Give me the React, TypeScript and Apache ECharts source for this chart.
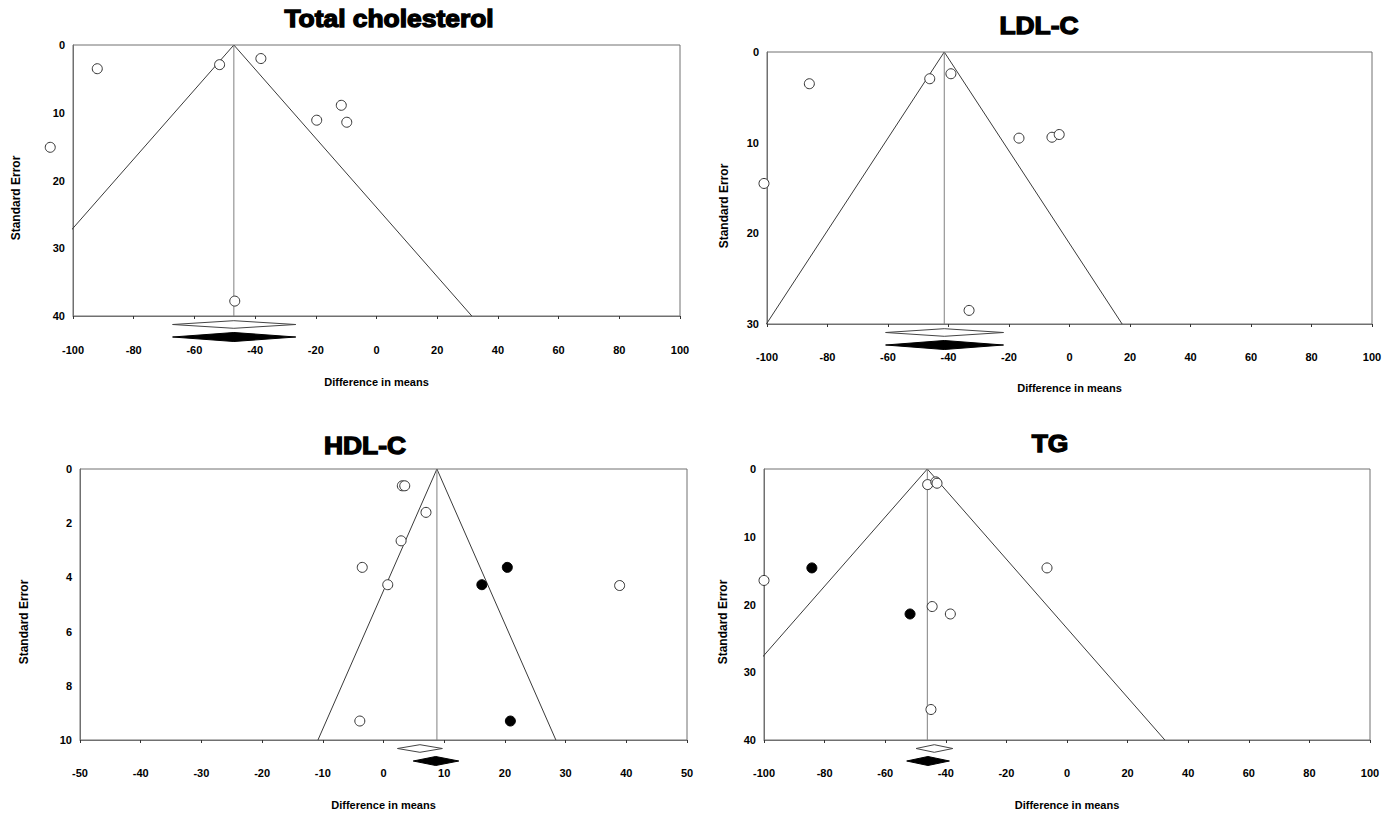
import React, { useEffect, useRef } from "react";
import * as echarts from "echarts";

// ---------- Data ----------
const panelTitles = ["Total cholesterol", "LDL-C", "HDL-C", "TG"];
const xAxisName = "Difference in means";
const yAxisName = "Standard Error";

// Total cholesterol
const tcOpenDiff = [-92.0, -51.7, -38.1, -11.6, -19.7, -9.8, -107.5, -46.7];
const tcOpenSE = [3.5, 2.9, 2.0, 8.9, 11.1, 11.4, 15.1, 37.8];
const tcFilledDiff: number[] = [];
const tcFilledSE: number[] = [];
const tcMean = -47.0;
const tcWhiteDiamond = [-67.2, -47.0, -26.6];
const tcBlackDiamond = [-67.2, -47.0, -26.6];
const tcXRange = [-100, 100, 20];
const tcYRange = [0, 40, 10];

// LDL-C
const ldlOpenDiff = [-86.0, -46.2, -39.2, -16.7, -5.8, -3.4, -101.0, -33.2];
const ldlOpenSE = [3.5, 2.95, 2.4, 9.5, 9.4, 9.1, 14.5, 28.5];
const ldlFilledDiff: number[] = [];
const ldlFilledSE: number[] = [];
const ldlMean = -41.4;
const ldlWhiteDiamond = [-60.8, -41.4, -21.8];
const ldlBlackDiamond = [-60.8, -41.4, -21.8];
const ldlXRange = [-100, 100, 20];
const ldlYRange = [0, 30, 10];

// HDL-C
const hdlOpenDiff = [3.1, 3.5, 7.0, 2.9, -3.5, 0.7, 38.9, -3.9];
const hdlOpenSE = [0.62, 0.62, 1.6, 2.65, 3.63, 4.27, 4.3, 9.3];
const hdlFilledDiff = [20.4, 16.2, 20.9];
const hdlFilledSE = [3.63, 4.27, 9.3];
const hdlMean = 8.8;
const hdlWhiteDiamond = [2.3, 6.0, 9.7];
const hdlBlackDiamond = [4.9, 8.6, 12.4];
const hdlXRange = [-50, 50, 10];
const hdlYRange = [0, 10, 2];

// TG
const tgOpenDiff = [-46.0, -43.3, -42.9, -6.6, -100.0, -44.5, -38.5, -44.9];
const tgOpenSE = [2.3, 1.9, 2.1, 14.6, 16.45, 20.3, 21.4, 35.5];
const tgFilledDiff = [-84.2, -51.8];
const tgFilledSE = [14.6, 21.4];
const tgMean = -46.1;
const tgWhiteDiamond = [-49.8, -43.8, -37.7];
const tgBlackDiamond = [-52.9, -45.9, -38.8];
const tgXRange = [-100, 100, 20];
const tgYRange = [0, 40, 10];

const Z = 1.96;

const panels = [
  { openX: tcOpenDiff, openY: tcOpenSE, fillX: tcFilledDiff, fillY: tcFilledSE, mean: tcMean, white: tcWhiteDiamond, black: tcBlackDiamond, xr: tcXRange, yr: tcYRange },
  { openX: ldlOpenDiff, openY: ldlOpenSE, fillX: ldlFilledDiff, fillY: ldlFilledSE, mean: ldlMean, white: ldlWhiteDiamond, black: ldlBlackDiamond, xr: ldlXRange, yr: ldlYRange },
  { openX: hdlOpenDiff, openY: hdlOpenSE, fillX: hdlFilledDiff, fillY: hdlFilledSE, mean: hdlMean, white: hdlWhiteDiamond, black: hdlBlackDiamond, xr: hdlXRange, yr: hdlYRange },
  { openX: tgOpenDiff, openY: tgOpenSE, fillX: tgFilledDiff, fillY: tgFilledSE, mean: tgMean, white: tgWhiteDiamond, black: tgBlackDiamond, xr: tgXRange, yr: tgYRange },
];

// ---------- Layout ----------
const grids = [
  { left: 73, top: 45, width: 607, height: 271 },
  { left: 767, top: 52, width: 605, height: 272 },
  { left: 80, top: 469, width: 607, height: 271 },
  { left: 764, top: 469, width: 606, height: 271 },
];
const titlePos = [
  [389, 18.5],
  [1039, 25],
  [365, 445],
  [1050, 443.5],
];
const yNamePos = [
  [15.5, 198],
  [724, 206],
  [23.5, 622],
  [722.5, 622],
];
const xNameGaps = [60, 58, 59, 59];
const xLabelMargins = [28, 27, 27, 27];

const FONT = "'Liberation Sans Narrow', 'Liberation Sans', Arial, sans-serif";
const BORDER = "#707070";

export default function App() {
  const ref = useRef<HTMLDivElement>(null);

  useEffect(() => {
    if (!ref.current) return;
    const chart = echarts.init(ref.current, undefined, { renderer: "svg" });

    const gridOpts: any[] = [];
    const xAxes: any[] = [];
    const yAxes: any[] = [];
    const series: any[] = [];
    const graphics: any[] = [];

    panels.forEach((p, i) => {
      const g = grids[i];
      gridOpts.push({
        left: g.left,
        top: g.top,
        width: g.width,
        height: g.height,
        show: true,
        borderColor: BORDER,
        borderWidth: 1,
        backgroundColor: "#fff",
      });
      xAxes.push({
        type: "value",
        gridIndex: i,
        min: p.xr[0],
        max: p.xr[1],
        interval: p.xr[2],
        name: xAxisName,
        nameLocation: "middle",
        nameGap: xNameGaps[i],
        nameTextStyle: { fontFamily: FONT, fontWeight: "bold", fontSize: 11, color: "#000" },
        axisLine: { show: true, onZero: false, lineStyle: { color: BORDER, width: 1 } },
        axisTick: { show: true, length: 3, lineStyle: { color: "#333" } },
        axisLabel: { margin: xLabelMargins[i], fontFamily: FONT, fontWeight: "bold", fontSize: 11, color: "#000" },
        splitLine: { show: false },
      });
      yAxes.push({
        type: "value",
        gridIndex: i,
        inverse: true,
        min: p.yr[0],
        max: p.yr[1],
        interval: p.yr[2],
        axisLine: { show: true, onZero: false, lineStyle: { color: BORDER, width: 1 } },
        axisTick: { show: false },
        axisLabel: { margin: 8, fontFamily: FONT, fontWeight: "bold", fontSize: 11, color: "#000" },
        splitLine: { show: false },
      });

      const yMax = p.yr[1];
      // funnel
      series.push({
        type: "line",
        xAxisIndex: i,
        yAxisIndex: i,
        data: [
          [p.mean - Z * yMax, yMax],
          [p.mean, 0],
          [p.mean + Z * yMax, yMax],
        ],
        symbol: "none",
        clip: true,
        silent: true,
        lineStyle: { color: "#3a3a3a", width: 1 },
        z: 2,
      });
      // vertical pooled line
      series.push({
        type: "line",
        xAxisIndex: i,
        yAxisIndex: i,
        data: [
          [p.mean, 0],
          [p.mean, yMax],
        ],
        symbol: "none",
        silent: true,
        lineStyle: { color: "#808080", width: 1 },
        z: 2,
      });
      // open circles
      series.push({
        type: "scatter",
        xAxisIndex: i,
        yAxisIndex: i,
        data: p.openX.map((x, k) => [x, p.openY[k]]),
        symbol: "circle",
        symbolSize: 10,
        clip: false,
        silent: true,
        itemStyle: { color: "#fff", borderColor: "#333", borderWidth: 1, opacity: 1 },
        z: 5,
      });
      if (p.fillX.length) {
        series.push({
          type: "scatter",
          xAxisIndex: i,
          yAxisIndex: i,
          data: p.fillX.map((x, k) => [x, p.fillY[k]]),
          symbol: "circle",
          symbolSize: 10,
          clip: false,
          silent: true,
          itemStyle: { color: "#000", borderColor: "#000", borderWidth: 1, opacity: 1 },
          z: 6,
        });
      }
      // diamonds
      series.push({
        type: "custom",
        xAxisIndex: i,
        yAxisIndex: i,
        silent: true,
        clip: false,
        data: [
          [p.white[0], p.white[1], p.white[2], 0],
          [p.black[0], p.black[1], p.black[2], 1],
        ],
        encode: { x: [0, 1, 2], y: 3 },
        renderItem: (params: any, api: any) => {
          const lo = api.value(0);
          const c = api.value(1);
          const hi = api.value(2);
          const row = api.value(3);
          const base = api.coord([c, yMax]);
          const cy = base[1] + (row === 0 ? 8.5 : 21);
          const xl = api.coord([lo, yMax])[0];
          const xr = api.coord([hi, yMax])[0];
          const xc = base[0];
          const hh = row === 0 ? 3.8 : 4.5;
          return {
            type: "polygon",
            shape: { points: [[xl, cy], [xc, cy - hh], [xr, cy], [xc, cy + hh]] },
            style: {
              fill: row === 0 ? "#fff" : "#000",
              stroke: row === 0 ? "#444" : "#000",
              lineWidth: 1,
            },
          };
        },
        z: 4,
      });

      graphics.push({
        type: "text",
        x: titlePos[i][0],
        y: titlePos[i][1],
        scaleX: 1.1,
        style: {
          text: panelTitles[i],
          fontFamily: "'Liberation Sans', Arial, sans-serif",
          fontWeight: "bold",
          fontSize: 24,
          fill: "#000",
          stroke: "#000",
          lineWidth: 1.3,
          textAlign: "center",
          textVerticalAlign: "middle",
        },
      });
      graphics.push({
        type: "text",
        x: yNamePos[i][0],
        y: yNamePos[i][1],
        rotation: Math.PI / 2,
        style: {
          text: yAxisName,
          fontFamily: FONT,
          fontWeight: "bold",
          fontSize: 12,
          fill: "#000",
          textAlign: "center",
          textVerticalAlign: "middle",
        },
      });
    });

    chart.setOption({
      animation: false,
      backgroundColor: "#fff",
      grid: gridOpts,
      xAxis: xAxes,
      yAxis: yAxes,
      series,
      graphic: graphics,
    });

    return () => chart.dispose();
  }, []);

  return (
    <div
      ref={ref}
      style={{ position: "absolute", left: 0, top: 0, width: 1394, height: 813, background: "#fff" }}
    />
  );
}
